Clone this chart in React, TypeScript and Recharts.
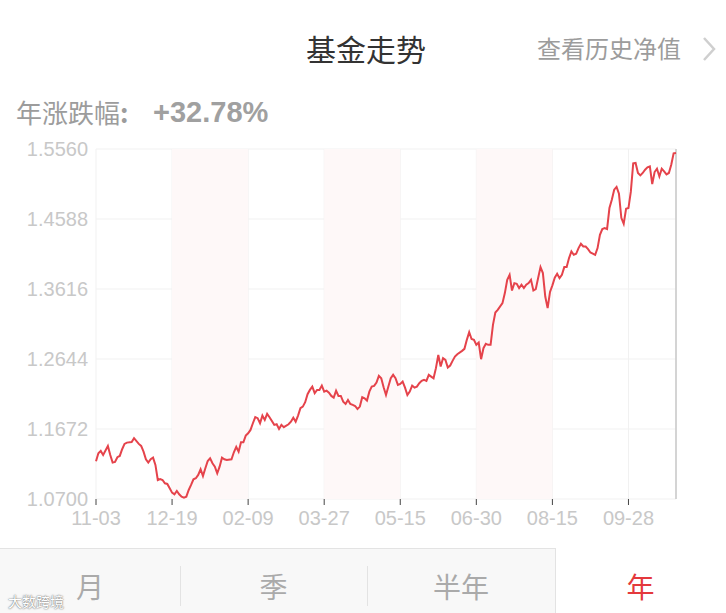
import React from "react";
import {
  LineChart,
  Line,
  XAxis,
  YAxis,
  CartesianGrid,
  ReferenceArea,
  ReferenceLine,
} from "recharts";

// trading-day index since 11-03, and unit NAV on that day
const tradeDay = [
  0, 1, 2, 3, 5, 6, 7, 8, 9, 10, 11, 12, 13, 15, 16, 18, 19, 20, 21, 22, 23, 24, 25, 26, 27, 28, 29, 30, 31, 32,
  33, 34, 35, 36, 37, 38, 39, 40, 41, 42, 43, 44, 45, 46, 47, 48, 49, 50, 51, 52, 53, 54, 55,
  57, 58, 59, 60, 61, 62, 63, 64, 65, 66,
  67, 68, 69, 70, 71, 72, 73, 75, 76, 77, 78, 79,
  81, 82, 83, 84, 85, 86, 87, 88, 89, 90, 91, 92, 93, 94, 95, 96,
  97, 98, 99, 100, 101, 102, 103, 104, 105, 106, 107, 108, 109, 110, 111, 112, 113, 114, 115, 116,
  117, 118, 119, 120, 121, 122, 123, 124, 125, 126, 127, 128, 129, 130, 131, 132, 133, 134, 135, 136,
  137, 138, 139, 140, 141, 142, 143, 144, 145, 146, 147, 148, 149, 150, 151, 152,
  154, 155, 156, 157, 158, 159, 160, 161, 162, 163, 164, 165, 166, 167, 168, 169,
  171, 172, 173, 174, 175, 176, 177, 178, 179, 180, 181, 182, 183, 184, 185, 186, 187, 188, 189, 190,
  191, 192, 193, 194, 195, 196, 197, 198, 199, 200, 201, 202, 203, 204, 205, 206, 207, 208,
  210, 211, 212, 213, 214, 215, 216, 217, 218, 219, 220, 221, 222, 223, 224, 225, 226, 227,
  228, 229, 230, 231, 232, 233, 234, 235, 236, 237, 238, 239, 240, 241, 242, 243, 244,
];

const nav = [
  1.1225, 1.1335, 1.1367, 1.1312, 1.1437, 1.1312, 1.1205, 1.1214, 1.128, 1.1298, 1.1391, 1.1465, 1.1483, 1.1492, 1.1544, 1.1465, 1.1437, 1.1357, 1.1252, 1.1205, 1.1252, 1.1274, 1.1173, 1.0964, 1.0978, 1.0964, 1.0918, 1.0909, 1.0849, 1.0788,
  1.0765, 1.0811, 1.0765, 1.0732, 1.0718, 1.0732, 1.0825, 1.0895, 1.0974, 1.0988, 1.1034, 1.1113, 1.102, 1.1127, 1.1228, 1.1266, 1.1196, 1.1149, 1.1057, 1.1149, 1.1274, 1.1252, 1.1242,
  1.1252, 1.1349, 1.1423, 1.1357, 1.1488, 1.1488, 1.158, 1.1613, 1.1659, 1.1752,
  1.1836, 1.1822, 1.1752, 1.1858, 1.1798, 1.1882, 1.1836, 1.1729, 1.1738, 1.1673, 1.1729, 1.1697,
  1.1738, 1.1774, 1.183, 1.1774, 1.1858, 1.1961, 1.1983, 1.2044, 1.2155, 1.2215, 1.2261, 1.2169, 1.2215, 1.2215, 1.2275, 1.2191,
  1.2205, 1.2177, 1.2131, 1.2108, 1.2205, 1.2131, 1.2131, 1.2052, 1.202, 1.2076, 1.202, 1.2006, 1.1992, 1.1951, 1.1983, 1.2113, 1.2099, 1.2066, 1.2191, 1.2261,
  1.227, 1.2316, 1.2409, 1.2377, 1.2252, 1.2145, 1.2261, 1.2377, 1.2424, 1.2377, 1.2284, 1.2298, 1.233, 1.2247, 1.2145, 1.2191, 1.2275, 1.2247, 1.2261, 1.2308,
  1.234, 1.2354, 1.234, 1.2424, 1.24, 1.2377, 1.2517, 1.27, 1.2539, 1.2656, 1.2632, 1.2525, 1.2553, 1.2618, 1.2678, 1.2711,
  1.2757, 1.2785, 1.291, 1.3017, 1.2922, 1.291, 1.2841, 1.2872, 1.2641, 1.2794, 1.2854, 1.2841, 1.2841, 1.3119, 1.3289, 1.3327,
  1.342, 1.3559, 1.3744, 1.3813, 1.3595, 1.3698, 1.3689, 1.3629, 1.3675, 1.3629, 1.3675, 1.3698, 1.3744, 1.3595, 1.3614, 1.3768, 1.392, 1.3837, 1.3511, 1.335,
  1.3575, 1.3667, 1.3772, 1.3828, 1.3767, 1.3813, 1.392, 1.392, 1.4045, 1.4137, 1.4091, 1.4105, 1.4184, 1.4244, 1.4206, 1.4206, 1.417, 1.4123,
  1.4091, 1.4184, 1.4369, 1.4448, 1.4462, 1.4448, 1.474, 1.4856, 1.4995, 1.5033, 1.4939, 1.4605, 1.4522, 1.473, 1.474, 1.4967, 1.536, 1.5366,
  1.5227, 1.5193, 1.5227, 1.5273, 1.5305, 1.5319, 1.5074, 1.524, 1.5287, 1.5179, 1.5287, 1.5249, 1.5208, 1.5227, 1.5342, 1.55, 1.5505,
];

const tickDays = [0, 32, 64, 96, 128, 160, 192, 224];
const tickLabels = ["11-03", "12-19", "02-09", "03-27", "05-15", "06-30", "08-15", "09-28"];
const navTicks = [1.07, 1.1672, 1.2644, 1.3616, 1.4588, 1.556];
const shadedBands = [
  [32, 64],
  [96, 128],
  [160, 192],
];
const periodTabs = ["月", "季", "半年", "年"];

const data = tradeDay.map((day, i) => ({ day, nav: nav[i] }));

const cjk = '"Noto Sans CJK SC", "Noto Sans", sans-serif';
const latin = '"Liberation Sans", Arial, sans-serif';

export default function App() {
  return (
    <div
      style={{
        position: "absolute",
        left: 0,
        top: 0,
        width: 726,
        height: 613,
        background: "#fff",
        overflow: "hidden",
        fontFamily: cjk,
      }}
    >
      {/* header */}
      <div style={{ position: "absolute", left: 0, width: 732, top: 28, textAlign: "center", fontSize: 30, lineHeight: "40px", color: "#333" }}>
        基金走势
      </div>
      <div style={{ position: "absolute", left: 537, top: 31, fontSize: 24, lineHeight: "34px", color: "#9c9c9c" }}>
        查看历史净值
      </div>
      <svg style={{ position: "absolute", left: 700, top: 36 }} width={20} height={26}>
        <polyline points="4,2 14,13 4,24" fill="none" stroke="#cfcfcf" strokeWidth={2.5} />
      </svg>
      <div style={{ position: "absolute", left: 16, top: 94, fontSize: 26, lineHeight: "36px", color: "#9c9c9c" }}>
        年涨跌幅<span style={{ fontWeight: "bold" }}>:</span>
      </div>
      <div style={{ position: "absolute", left: 153, top: 94, fontSize: 29, lineHeight: "36px", color: "#a0a0a0", fontWeight: "bold", fontFamily: latin }}>
        +32.78%
      </div>

      {/* chart */}
      <div style={{ position: "absolute", left: 0, top: 130 }}>
        <LineChart width={726} height={420} data={data} margin={{ top: 19, right: 50, bottom: 0, left: 0 }}>
          {shadedBands.map(([a, b]) => (
            <ReferenceArea key={a} x1={a} x2={b} fill="#fef8f8" fillOpacity={1} stroke="none" />
          ))}
          <CartesianGrid stroke="#f1f1f1" />
          <XAxis
            type="number"
            dataKey="day"
            domain={[0, 244]}
            ticks={tickDays}
            interval={0}
            tickFormatter={(d: number) => tickLabels[tickDays.indexOf(d)]}
            axisLine={false}
            tickLine={{ stroke: "#444" }}
            tickSize={6}
            tickMargin={6}
            height={51}
            tick={{ fill: "#c8c8c8", fontSize: 20, fontFamily: latin }}
          />
          <YAxis
            type="number"
            domain={[1.07, 1.556]}
            ticks={navTicks}
            interval={0}
            tickFormatter={(v: number) => v.toFixed(4)}
            axisLine={false}
            tickLine={false}
            width={96}
            tick={{ fill: "#c8c8c8", fontSize: 20, fontFamily: latin }}
          />
          <ReferenceLine x={244} stroke="#c8c8c8" strokeWidth={1.5} />
          <Line
            type="linear"
            dataKey="nav"
            stroke="#e5434b"
            strokeWidth={2}
            dot={false}
            activeDot={false}
            isAnimationActive={false}
          />
        </LineChart>
      </div>

      {/* period tabs */}
      <div
        style={{
          position: "absolute",
          left: 0,
          top: 548,
          width: 555,
          height: 70,
          background: "#f8f8f8",
          borderTop: "1px solid #e3e3e3",
          borderRight: "1px solid #e3e3e3",
        }}
      />
      {[180, 367].map((x) => (
        <div key={x} style={{ position: "absolute", left: x, top: 566, width: 1, height: 40, background: "#e3e3e3" }} />
      ))}
      {periodTabs.map((t, i) => (
        <div
          key={t}
          style={{
            position: "absolute",
            left: [0, 180, 367, 555][i],
            width: [180, 187, 188, 171][i],
            top: 566,
            textAlign: "center",
            fontSize: 28,
            lineHeight: "40px",
            color: i === 3 ? "#e4393c" : "#aaaaaa",
          }}
        >
          {t}
        </div>
      ))}
      <div
        style={{
          position: "absolute",
          left: 8,
          top: 592,
          fontSize: 14,
          lineHeight: "18px",
          color: "#fff",
          textShadow: "0 0 2px #777, 0 0 1px #777",
        }}
      >
        大数跨境
      </div>
    </div>
  );
}
